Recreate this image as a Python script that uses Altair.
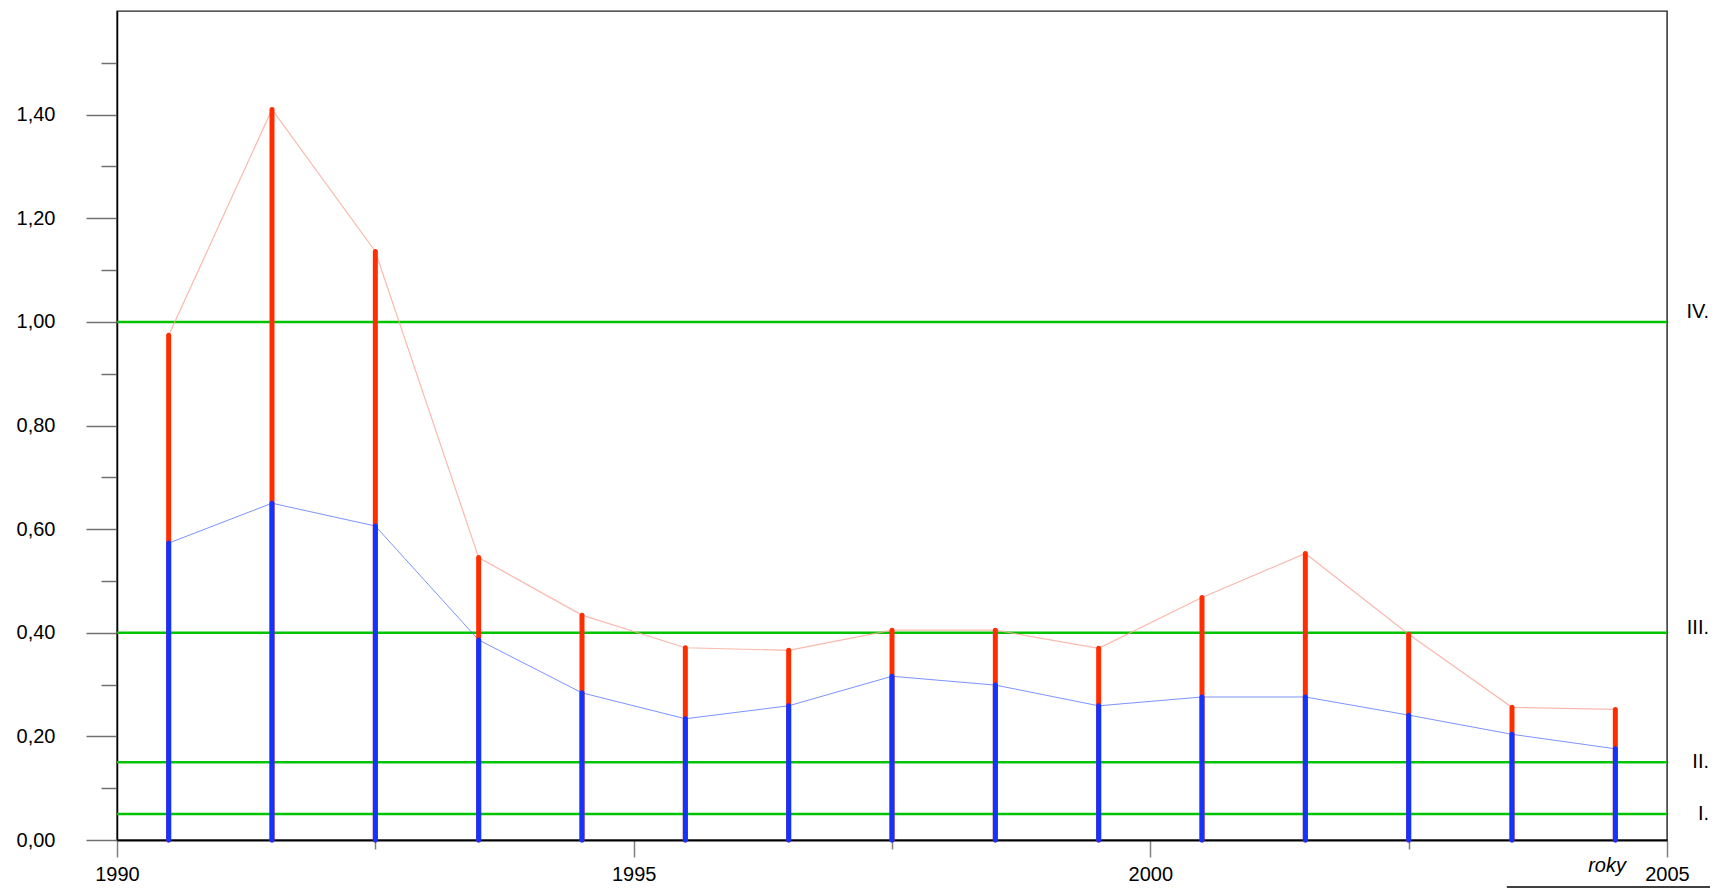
import altair as alt
import pandas as pd

# ---- data ----
year_pos = [1990.5, 1991.5, 1992.5, 1993.5, 1994.5, 1995.5, 1996.5, 1997.5,
            1998.5, 1999.5, 2000.5, 2001.5, 2002.5, 2003.5, 2004.5]
total_vals = [0.974, 1.410, 1.136, 0.545, 0.434, 0.371, 0.366, 0.405,
              0.405, 0.370, 0.468, 0.553, 0.397, 0.256, 0.252]
part_vals = [0.573, 0.650, 0.606, 0.386, 0.284, 0.234, 0.259, 0.316,
             0.299, 0.259, 0.276, 0.276, 0.241, 0.204, 0.176]

thr_vals = [1.0, 0.4, 0.15, 0.05]
thr_names = ["IV.", "III.", "II.", "I."]

x_ticks = [1990, 1992.5, 1995, 1997.5, 2000, 2002.5, 2005]
y_ticks = [0.0, 0.1, 0.2, 0.3, 0.4, 0.5, 0.6, 0.7, 0.8, 0.9, 1.0, 1.1, 1.2, 1.3, 1.4, 1.5]

FONT = "Liberation Sans"
RED = "#FF2E00"
BLUE = "#1433FF"
GREEN = "#00C400"

df = pd.DataFrame({"x": year_pos, "total": total_vals, "part": part_vals,
                   "zero": [0.0] * len(year_pos)})
thr = pd.DataFrame({"v": thr_vals, "name": thr_names, "xr": [2005] * len(thr_vals)})

xscale = alt.Scale(domain=[1990, 2005], nice=False, zero=False)
yscale = alt.Scale(domain=[0, 1.6], nice=False)

xaxis = alt.Axis(
    values=x_ticks,
    title=None,
    grid=False,
    labelExpr="datum.value % 5 == 0 ? format(datum.value, 'd') : ''",
    tickSize={"condition": {"test": "datum.value % 5 == 0", "value": 17}, "value": 9},
    tickColor="#808080",
    tickWidth=1.5,
    domainColor="black",
    domainWidth=2,
    labelPadding=7,
    labelFlush=False,
    labelFont=FONT,
    labelFontSize=20,
    labelColor="black",
)
yaxis = alt.Axis(
    values=y_ticks,
    title=None,
    grid=False,
    labelExpr="round(datum.value * 10) % 2 == 0 ? replace(format(datum.value, '.2f'), '.', ',') : ''",
    tickSize={"condition": {"test": "round(datum.value * 10) % 2 == 0", "value": 31}, "value": 16},
    tickColor="#707070",
    tickWidth=1.5,
    domainColor="black",
    domainWidth=1.5,
    labelPadding=31,
    labelFont=FONT,
    labelFontSize=20,
    labelColor="black",
)

base = alt.Chart(df)

green = alt.Chart(thr).mark_rule(color=GREEN, strokeWidth=2.5).encode(
    y=alt.Y("v:Q", scale=yscale, axis=yaxis)
)

line_total = base.mark_line(color="#F7A898", strokeWidth=1.2, opacity=0.8).encode(
    x=alt.X("x:Q", scale=xscale, axis=xaxis),
    y=alt.Y("total:Q", scale=yscale),
)
line_part = base.mark_line(color="#5C78FF", strokeWidth=1, opacity=0.8).encode(
    x=alt.X("x:Q", scale=xscale),
    y=alt.Y("part:Q", scale=yscale),
)

bar_total = base.mark_rule(color=RED, strokeWidth=5, strokeCap="round").encode(
    x=alt.X("x:Q", scale=xscale),
    y=alt.Y("total:Q", scale=yscale),
    y2=alt.Y2("zero:Q"),
)
bar_part = base.mark_rule(color=BLUE, strokeWidth=5, strokeCap="round").encode(
    x=alt.X("x:Q", scale=xscale),
    y=alt.Y("part:Q", scale=yscale),
    y2=alt.Y2("zero:Q"),
)

def thr_text(names, dy):
    return alt.Chart(thr).transform_filter(
        alt.FieldOneOfPredicate(field="name", oneOf=names)
    ).mark_text(
        font=FONT, fontSize=20, align="right", baseline="middle", dx=42, dy=dy, color="black"
    ).encode(
        x=alt.X("xr:Q", scale=xscale),
        y=alt.Y("v:Q", scale=yscale),
        text="name:N",
    )

t_iv = thr_text(["IV."], -10)
t_iii = thr_text(["III."], -5)
t_low = thr_text(["II.", "I."], 0)

roky = alt.Chart(pd.DataFrame({"t": ["roky"], "x": [2004.42], "y": [0.0]})).mark_text(
    font=FONT, fontSize=20, fontStyle="italic", align="center", baseline="middle", dy=26, color="black"
).encode(
    x=alt.X("x:Q", scale=xscale),
    y=alt.Y("y:Q", scale=yscale),
    text="t:N",
)

underline = alt.Chart(pd.DataFrame({"a": [2003.45], "b": [2005.45], "y": [-0.0905]})).mark_rule(
    color="black", strokeWidth=1.5
).encode(
    x=alt.X("a:Q", scale=xscale),
    x2=alt.X2("b:Q"),
    y=alt.Y("y:Q", scale=yscale),
)

chart = alt.layer(
    green, line_total, line_part, bar_total, bar_part, t_iv, t_iii, t_low, roky, underline
).properties(
    width=1550,
    height=829,
    autosize="none",
    padding={"left": 109, "top": 3, "right": 43, "bottom": 48},
).configure(
    background="white"
).configure_view(
    stroke="#202020", strokeWidth=1.4
)

chart.save("out.html", embed_options={"renderer": "svg", "actions": False})
